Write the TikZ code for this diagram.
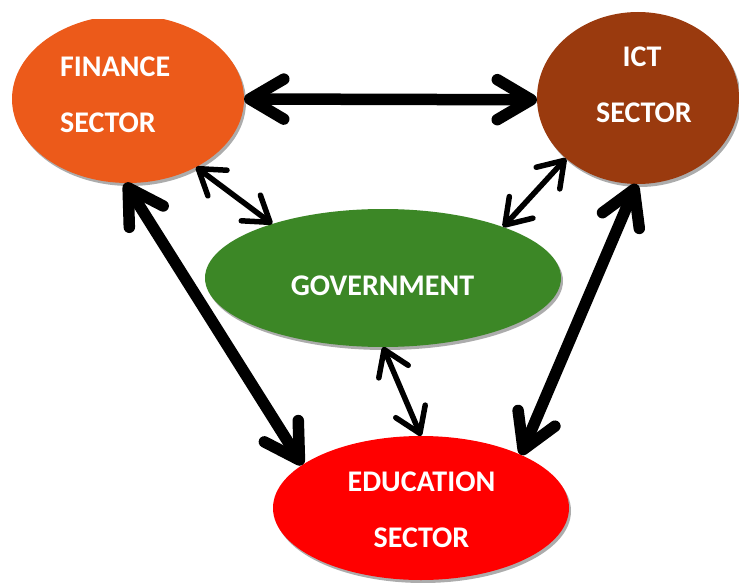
\documentclass[tikz,border=0pt]{standalone}
\usepackage{fontspec}
\setmainfont{Carlito}
\usetikzlibrary{arrows.meta,shapes.geometric,shadows}
\definecolor{finC}{RGB}{236,90,26}
\definecolor{ictC}{RGB}{154,58,14}
\definecolor{govC}{RGB}{60,135,38}
\definecolor{eduC}{RGB}{255,0,0}
\begin{document}
\begin{tikzpicture}[x=1pt,y=-1pt,
  blob/.style={ellipse, inner sep=0pt, outer sep=0pt, draw=none,
    drop shadow={shadow xshift=2pt, shadow yshift=-3pt, fill=gray!65, opacity=1}},
  lbl/.style={text=white, font=\bfseries\fontsize{30}{36}\selectfont, inner sep=0pt},
  bigarrow/.style={line width=11.5pt,
    {Straight Barb[length=34pt,width=40pt,round]}-{Straight Barb[length=34pt,width=40pt,round]}},
  smallarrow/.style={line width=5.5pt,
    {Straight Barb[length=24pt,width=32pt,round]}-{Straight Barb[length=24pt,width=32pt,round]}}
]
\useasboundingbox (0,0) rectangle (739,583);
\begin{scope}
  \clip (0,20) rectangle (739,583);
  \node[blob, fill=finC, minimum width=232pt, minimum height=168pt] (fin) at (128,99) {};
\end{scope}
\begin{scope}
  \clip (0,12) rectangle (739,583);
  \node[blob, fill=ictC, minimum width=202pt, minimum height=172pt] (ict) at (638,98) {};
\end{scope}
\node[blob, fill=govC, minimum width=356pt, minimum height=138pt] (gov) at (383,278) {};
\node[blob, fill=eduC, minimum width=296pt, minimum height=144pt] (edu) at (421,508) {};

\node[lbl, anchor=base west] (finT1) at (60,77) {FINANCE};
\node[lbl, anchor=base west] (finT2) at (60,133) {SECTOR};
\node[lbl, anchor=base] (ictT1) at (642,67) {ICT};
\node[lbl, anchor=base] (ictT2) at (644,123) {SECTOR};
\node[lbl, anchor=base] (govT) at (382.5,295) {GOVERNMENT};
\node[lbl, anchor=base] (eduT1) at (421.5,491) {EDUCATION};
\node[lbl, anchor=base] (eduT2) at (421.5,547) {SECTOR};

\draw[bigarrow] (fin.0) -- (ict.181);
\draw[bigarrow] (fin.-92) -- (edu.160);
\draw[bigarrow] (ict.-91) -- (edu.28);
\draw[smallarrow] (fin.-45) -- (gov.154);
\draw[smallarrow] (ict.-140) -- (gov.23);
\draw[smallarrow] (gov.south) -- (edu.north);
\end{tikzpicture}
\end{document}
